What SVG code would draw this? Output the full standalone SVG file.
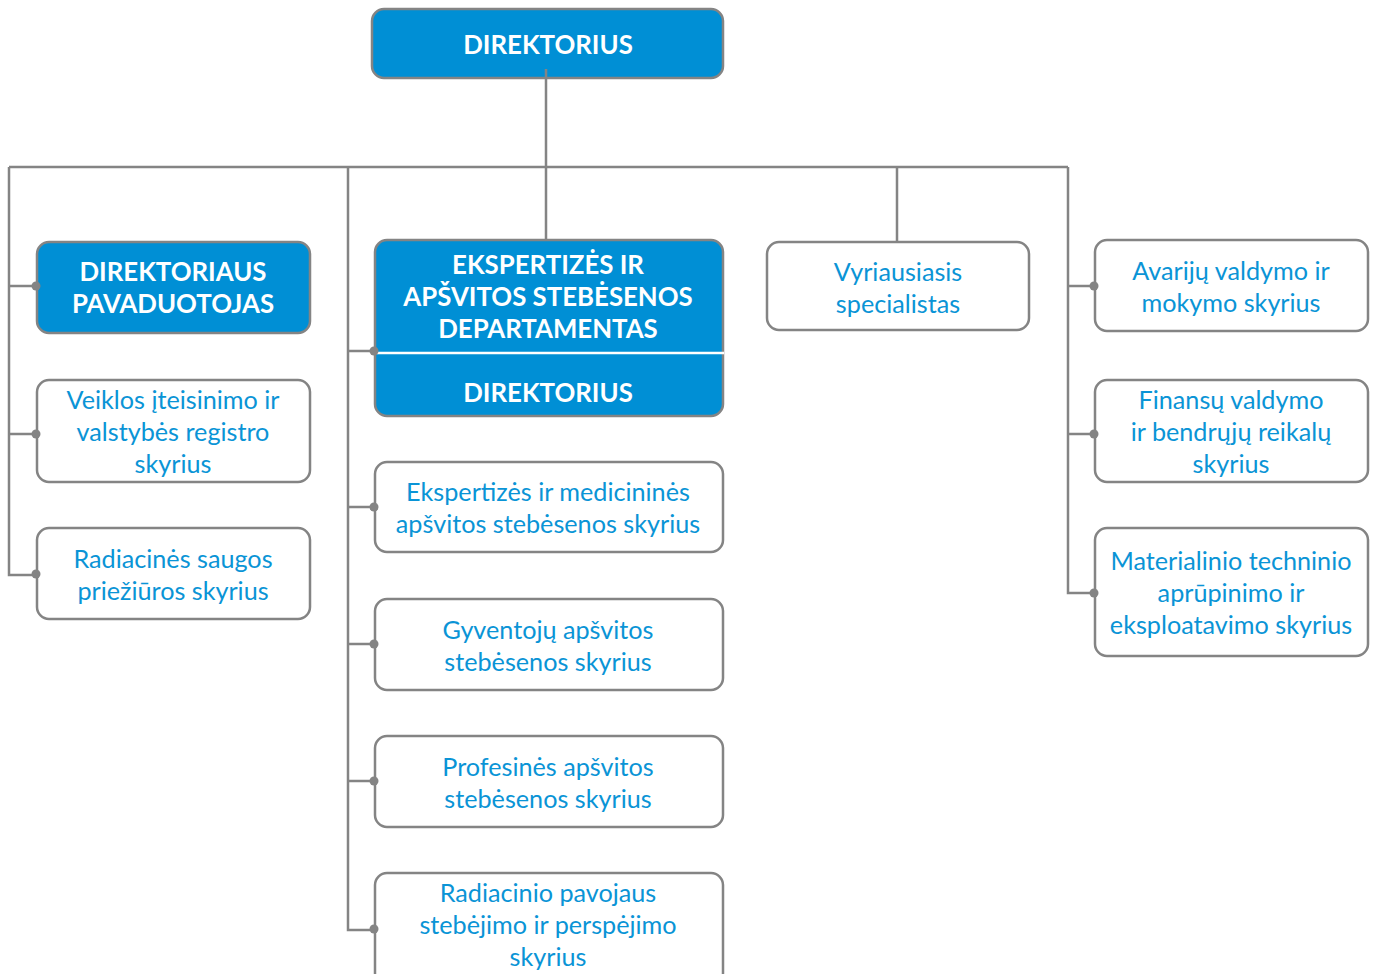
<svg xmlns="http://www.w3.org/2000/svg" width="1375" height="974" viewBox="0 0 1375 974">
<style>
.b{fill:#fff;stroke:#848484;stroke-width:2.5}
.f{fill:#008fd5;stroke:#848484;stroke-width:2.5}
.t{font-family:Lato,"Open Sans",sans-serif;font-size:25.2px;fill:#0a94d6;text-anchor:middle}
.w{font-family:Lato,"Open Sans",sans-serif;font-size:25.8px;font-weight:bold;fill:#fff;text-anchor:middle}
.c{fill:none;stroke:#848484;stroke-width:2.5}
.d{fill:#848484}
</style>
<rect width="1375" height="974" fill="#fff"/>
<g id="connectors">
<path class="c" d="M546 69V240M9 167H1068M9 167V575H37M9 286H37M9 434H37M348 167V930H375M348 351H375M348 507H375M348 644H375M348 781H375M897 167V242M1068 167V593H1095M1068 286H1095M1068 434H1095"/>
</g>
<g id="direktorius">
<rect class="f" x="372" y="9" width="351" height="69" rx="12"/>
<line x1="546" y1="69" x2="546" y2="78" stroke="#848484" stroke-width="2.5"/>
<text class="w" x="548" y="54">DIREKTORIUS</text>
</g>
<g id="pavaduotojas">
<rect class="f" x="37" y="242" width="273" height="91" rx="12"/>
<text class="w" x="173" y="281">DIREKTORIAUS</text>
<text class="w" x="173" y="313">PAVADUOTOJAS</text>
</g>
<g id="veiklos">
<rect class="b" x="37" y="380" width="273" height="102" rx="12"/>
<text class="t" x="173" y="409">Veiklos įteisinimo ir</text>
<text class="t" x="173" y="441">valstybės registro</text>
<text class="t" x="173" y="473">skyrius</text>
</g>
<g id="radiacines">
<rect class="b" x="37" y="528" width="273" height="91" rx="12"/>
<text class="t" x="173" y="568">Radiacinės saugos</text>
<text class="t" x="173" y="600">priežiūros skyrius</text>
</g>
<g id="departamentas">
<rect class="f" x="375" y="240" width="348" height="176" rx="12"/>
<line x1="376" y1="353" x2="724" y2="353" stroke="#fff" stroke-width="2.5"/>
<text class="w" x="548" y="274">EKSPERTIZĖS IR</text>
<text class="w" x="548" y="306">APŠVITOS STEBĖSENOS</text>
<text class="w" x="548" y="338">DEPARTAMENTAS</text>
<text class="w" x="548" y="402">DIREKTORIUS</text>
</g>
<g id="medicinines">
<rect class="b" x="375" y="462" width="348" height="90" rx="12"/>
<text class="t" x="548" y="501">Ekspertizės ir medicininės</text>
<text class="t" x="548" y="533">apšvitos stebėsenos skyrius</text>
</g>
<g id="gyventoju">
<rect class="b" x="375" y="599" width="348" height="91" rx="12"/>
<text class="t" x="548" y="639">Gyventojų apšvitos</text>
<text class="t" x="548" y="671">stebėsenos skyrius</text>
</g>
<g id="profesines">
<rect class="b" x="375" y="736" width="348" height="91" rx="12"/>
<text class="t" x="548" y="776">Profesinės apšvitos</text>
<text class="t" x="548" y="808">stebėsenos skyrius</text>
</g>
<g id="pavojaus">
<rect class="b" x="375" y="873" width="348" height="112" rx="12"/>
<text class="t" x="548" y="902">Radiacinio pavojaus</text>
<text class="t" x="548" y="934">stebėjimo ir perspėjimo</text>
<text class="t" x="548" y="966">skyrius</text>
</g>
<g id="vyriausiasis">
<rect class="b" x="767" y="242" width="262" height="88" rx="12"/>
<text class="t" x="898" y="281">Vyriausiasis</text>
<text class="t" x="898" y="313">specialistas</text>
</g>
<g id="avariju">
<rect class="b" x="1095" y="240" width="273" height="91" rx="12"/>
<text class="t" x="1231" y="280">Avarijų valdymo ir</text>
<text class="t" x="1231" y="312">mokymo skyrius</text>
</g>
<g id="finansu">
<rect class="b" x="1095" y="380" width="273" height="102" rx="12"/>
<text class="t" x="1231" y="409">Finansų valdymo</text>
<text class="t" x="1231" y="441">ir bendrųjų reikalų</text>
<text class="t" x="1231" y="473">skyrius</text>
</g>
<g id="materialinio">
<rect class="b" x="1095" y="528" width="273" height="128" rx="12"/>
<text class="t" x="1231" y="570">Materialinio techninio</text>
<text class="t" x="1231" y="602">aprūpinimo ir</text>
<text class="t" x="1231" y="634">eksploatavimo skyrius</text>
</g>
<g id="connector-dots">
<circle class="d" cx="36" cy="286" r="4.5"/><circle class="d" cx="36" cy="434" r="4.5"/><circle class="d" cx="36" cy="574" r="4.5"/>
<circle class="d" cx="374" cy="351" r="4.5"/><circle class="d" cx="374" cy="507" r="4.5"/><circle class="d" cx="374" cy="644" r="4.5"/><circle class="d" cx="374" cy="781" r="4.5"/><circle class="d" cx="374" cy="929" r="4.5"/>
<circle class="d" cx="1094" cy="286" r="4.5"/><circle class="d" cx="1094" cy="434" r="4.5"/><circle class="d" cx="1094" cy="593" r="4.5"/>
</g>
</svg>
